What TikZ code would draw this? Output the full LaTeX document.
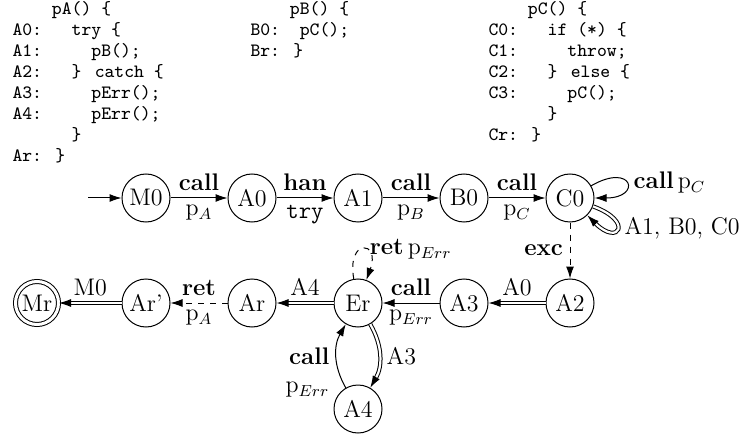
\documentclass[tikz,border=0pt]{standalone}
\usepackage{tikz}
\usetikzlibrary{arrows.meta}
\tikzset{
	state/.style={circle, draw, minimum size=24pt, inner sep=0pt},
	final/.style={state, minimum size=21.5pt, double, double distance=1.5pt},
	trans/.style={-{Latex[length=6pt,width=4pt]}},
	dbl/.style={double, double distance=1.1pt, -{Latex[length=6pt,width=4pt]}},
	code/.style={anchor=north west, inner sep=0pt, align=left, font=\fontsize{9.4}{10.5}\selectfont\ttfamily},
}
\def\proc#1{$\mathrm{p}_{#1}$}

\begin{document}
\begin{tikzpicture}[x=0.5pt, y=-0.5pt, line width=0.5pt, font=\fontsize{12}{14}\selectfont]
			\useasboundingbox (0,0) rectangle (743,438);
			
			%%%%% CODE %%%%%
			\node[code] (codeA) at (12,1) {\mbox{\ \ \ \ }pA() \{\\
				A0:\ \ \ try \{\\
				A1:\ \ \ \ \ pB();\\
				A2:\ \ \ \} catch \{\\
				A3:\ \ \ \ \ pErr();\\
				A4:\ \ \ \ \ pErr();\\
				\mbox{\ \ \ \ \ \ }\}\\
				Ar: \}};
			\node[code] (codeB) at (250,1) {\mbox{\ \ \ \ }pB() \{\\
				B0:\ \ pC();\\
				Br: \}};
			\node[code] (codeC) at (488,1) {\mbox{\ \ \ \ }pC() \{\\
				C0:\ \ \ if (*) \{\\
				C1:\ \ \ \ \ throw;\\
				C2:\ \ \ \} else \{\\
				C3:\ \ \ \ \ pC();\\
				\mbox{\ \ \ \ \ \ }\}\\
				Cr: \}};
			
			%%%%% STATES %%%%%
			\coordinate (start) at (88,198);
			\node[state] (M0) at (146,198) {M0};
			\node[state] (A0) at (252,198) {A0};
			\node[state] (A1) at (358,198) {A1};
			\node[state] (B0) at (464,198) {B0};
			\node[state] (C0) at (570,198) {C0};
			
			\node[final] (Mr) at (37,303) {Mr};
			\node[state] (Arp) at (146,303) {Ar'};
			\node[state] (Ar) at (252,303) {Ar};
			\node[state] (Er) at (358,303) {Er};
			\node[state] (A3) at (464,303) {A3};
			\node[state] (A2) at (570,303) {A2};
			
			\node[state] (A4) at (358,409) {A4};
			
			%%%%% EDGES %%%%%
			\draw[trans] (start) -- (M0);
			\draw[trans] (M0) -- node[above] {\textbf{call}} node[below] {\proc{A}} (A0);
			\draw[trans] (A0) -- node[above] {\textbf{han}} node[below] {\texttt{try}} (A1);
			\draw[trans] (A1) -- node[above] {\textbf{call}} node[below] {\proc{B}} (B0);
			\draw[trans] (B0) -- node[above] {\textbf{call}} node[below] {\proc{C}} (C0);
			
			\draw[trans] (C0.30) .. controls +(30:24pt) and +(0:24pt) .. node[right] {\textbf{call}\,\proc{C}} (C0.east);
			\draw[dbl] (C0.-20) .. controls +(-20:22pt) and +(-45:22pt) .. node[right] {A1, B0, C0} (C0.-45);
			\draw[trans, dashed] (C0) -- node[left] {\textbf{exc}} (A2);
			
			\draw[dbl] (A2) -- node[above] {A0} (A3);
			\draw[trans] (A3) -- node[above] {\textbf{call}} node[below] {\proc{Err}} (Er);
			\draw[trans, dashed] (Er.100) .. controls +(100:21pt) and +(70:21pt) .. node[right] {\textbf{ret}\,\proc{Err}} (Er.70);
			\draw[dbl] (Er) -- node[above] {A4} (Ar);
			\draw[trans, dashed] (Ar) -- node[above] {\textbf{ret}} node[below] {\proc{A}} (Arp);
			\draw[dbl] (Arp) -- node[above] {M0} (Mr);
			
			\draw[dbl] (Er) to[bend left] node[right] {A3} (A4);
			\draw[trans] (A4) to[bend left] node[left] {\textbf{call}} node[left, yshift=-17pt] {\proc{Err}} (Er);
\end{tikzpicture}
\end{document}
